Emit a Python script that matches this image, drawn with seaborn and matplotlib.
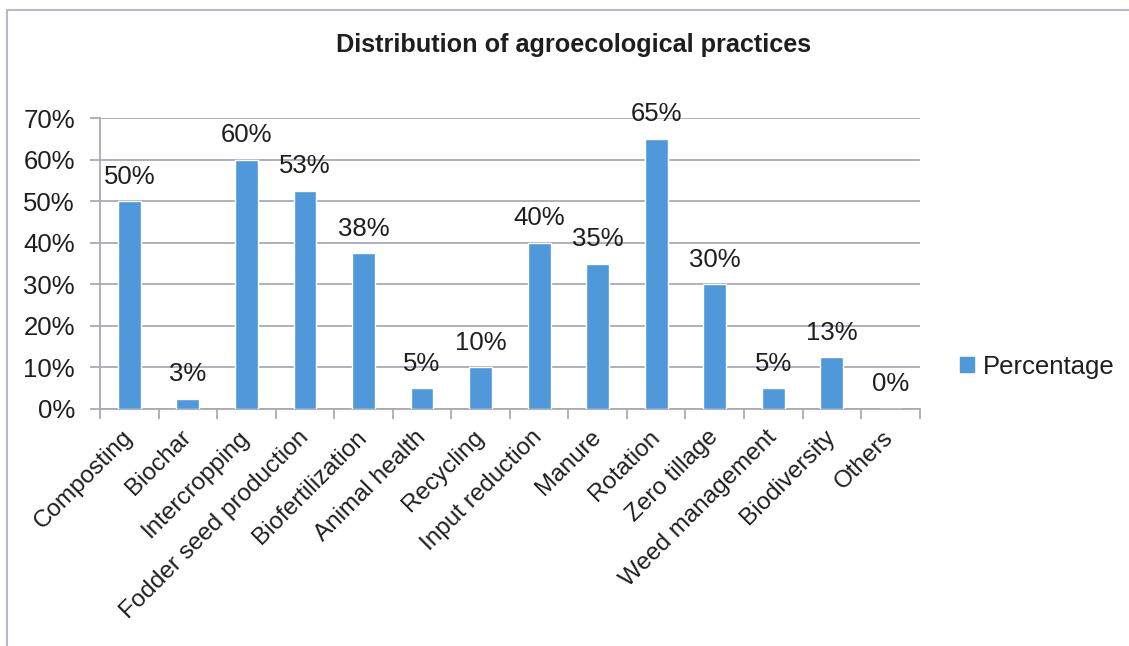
import numpy as np
import pandas as pd
import matplotlib
matplotlib.use("Agg")
import matplotlib.pyplot as plt
from matplotlib.lines import Line2D
from matplotlib.patches import Patch
from matplotlib.ticker import FixedLocator, PercentFormatter
import seaborn as sns
from decimal import Decimal, ROUND_HALF_UP

# Survey responses: number of farmers (out of 40) using each practice
practices = [
    "Composting", "Biochar", "Intercropping", "Fodder seed production",
    "Biofertilization", "Animal health", "Recycling", "Input reduction",
    "Manure", "Rotation", "Zero tillage", "Weed management",
    "Biodiversity", "Others",
]
counts = [20, 1, 24, 21, 15, 2, 4, 16, 14, 26, 12, 2, 5, 0]
respondents = 40
percentages = [c / respondents for c in counts]

df = pd.DataFrame({"Practice": practices, "Percentage": percentages})

BAR = "#4F98D9"
GRID = "#A9A9BC"
TEXT = "#1E1E1E"

sns.set_theme(style="white")
plt.rcParams["font.family"] = ["Liberation Sans", "DejaVu Sans"]

fig = plt.figure(figsize=(11.29, 6.46), dpi=100)
ax = fig.add_axes([0.0886, 0.367, 0.726, 0.450])

sns.barplot(data=df, x="Practice", y="Percentage", color=BAR, width=0.39,
            saturation=1, ax=ax, zorder=3)

ax.set_ylim(0, 0.70)
ax.set_xlim(-0.5, len(practices) - 0.5)
ax.yaxis.set_major_locator(FixedLocator(np.arange(0, 0.71, 0.10)))
ax.yaxis.set_major_formatter(PercentFormatter(1.0, decimals=0))
ax.grid(axis="y", color=GRID, linewidth=1.3, zorder=0)
ax.grid(axis="x", visible=False)

for side in ("top", "right"):
    ax.spines[side].set_visible(False)
for side in ("left", "bottom"):
    ax.spines[side].set_color(GRID)
    ax.spines[side].set_linewidth(1.3)

ax.tick_params(axis="y", which="major", left=True, length=7, width=1.3,
               color=GRID, labelsize=18.5, labelcolor=TEXT, pad=11)
ax.tick_params(axis="x", which="major", bottom=False, length=0,
               labelsize=17.5, labelcolor=TEXT, pad=18)
ax.xaxis.set_minor_locator(FixedLocator(np.arange(-0.5, len(practices), 1.0)))
ax.tick_params(axis="x", which="minor", bottom=True, length=7, width=1.3,
               color=GRID, direction="out")

ax.set_xticks(range(len(practices)))
ax.set_xticklabels(practices, rotation=45, ha="right", va="center",
                   rotation_mode="anchor")
ax.set_xlabel("")
ax.set_ylabel("")

# value labels above each bar, rounded the way the survey report shows them
for i, v in enumerate(percentages):
    pct = Decimal(str(v * 100)).quantize(Decimal("1"), rounding=ROUND_HALF_UP)
    ax.annotate(f"{pct}%", xy=(i, v), xytext=(0, 9), textcoords="offset points",
                ha="center", va="bottom", fontsize=18.5, color=TEXT)

fig.text(0.508, 0.930, "Distribution of agroecological practices",
         ha="center", va="center", fontsize=18.2, fontweight="bold", color=TEXT)

ax.legend(handles=[Patch(facecolor=BAR, edgecolor=BAR, label="Percentage")],
          loc="center left", bbox_to_anchor=(1.021, 0.145), frameon=False,
          fontsize=18.5, handlelength=0.55, handleheight=0.55, handletextpad=0.35,
          labelcolor=TEXT)

# chart area frame
fig.add_artist(Line2D([0.0062, 1.0], [0.984, 0.984], color="#B8B8C8",
                      linewidth=1.5, transform=fig.transFigure))
fig.add_artist(Line2D([0.0062, 0.0062], [0.0, 0.984], color="#B8B8C8",
                      linewidth=1.5, transform=fig.transFigure))

fig.savefig("out.png", dpi=100, facecolor="white")
